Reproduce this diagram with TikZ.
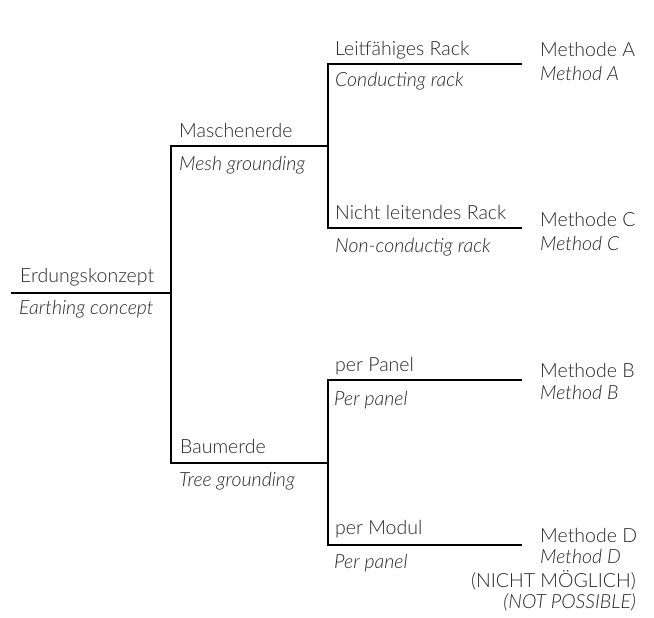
\documentclass[tikz,border=0pt]{standalone}
\usepackage{fontspec}
\setmainfont{Lato}[UprightFont={* Light},ItalicFont={* Light Italic},BoldFont={* Bold}]
\definecolor{txtgray}{HTML}{262626}
\begin{document}
\begin{tikzpicture}[x=1pt,y=-1pt,
  lbl/.style={anchor=base west,inner sep=0pt,text=txtgray,font=\fontsize{19.5}{22}\selectfont},
  lbli/.style={lbl,font=\fontsize{19.5}{22}\selectfont\itshape},
  lblr/.style={lbl,anchor=base east},
  lblri/.style={lbli,anchor=base east},
  branch/.style={draw=black,line width=2pt}]
\useasboundingbox (0,0) rectangle (654,618);
% junction coordinates
\coordinate (r0) at (11,293);
\coordinate (r1) at (171,293);
\coordinate (m0) at (171,146);
\coordinate (m1) at (328,146);
\coordinate (t0) at (171,463);
\coordinate (t1) at (328,463);
\coordinate (a0) at (328,64);
\coordinate (a1) at (522,64);
\coordinate (c0) at (328,228);
\coordinate (c1) at (522,228);
\coordinate (b0) at (328,380);
\coordinate (b1) at (522,380);
\coordinate (d0) at (328,545);
\coordinate (d1) at (522,545);
% connectors
\draw[branch] (r0) -- (r1);
\draw[branch] (m1) -- (m0) -- (t0) -- (t1);
\draw[branch] (a1) -- (a0) -- (c0) -- (c1);
\draw[branch] (b1) -- (b0) -- (d0) -- (d1);
% labels
\node[lbl]  (rootde) at (20,282) {Erdungskonzept};
\node[lbli] (rooten) at (19,314.5) {Earthing concept};
\node[lbl]  (meshde) at (179,138) {Maschenerde};
\node[lbli] (meshen) at (179,171) {Mesh grounding};
\node[lbl]  (treede) at (180,453) {Baumerde};
\node[lbli] (treeen) at (179,486) {Tree grounding};
\node[lbl]  (cde) at (335,56) {Leitfähiges Rack};
\node[lbli] (cen) at (335,87) {Conducting rack};
\node[lbl]  (nde) at (335,219) {Nicht leitendes Rack};
\node[lbli] (nen) at (335,252.5) {Non-conductig rack};
\node[lbl]  (pde) at (335,371) {per Panel};
\node[lbli] (pen) at (334,405) {Per panel};
\node[lbl]  (ude) at (335,534) {per Modul};
\node[lbli] (uen) at (334,568) {Per panel};
\node[lbl]  (made) at (540,57) {Methode A};
\node[lbli] (maen) at (540,81) {Method A};
\node[lbl]  (mcde) at (540,226) {Methode C};
\node[lbli] (mcen) at (540,250) {Method C};
\node[lbl]  (mbde) at (540,377) {Methode B};
\node[lbli] (mben) at (540,399) {Method B};
\node[lbl]  (mdde) at (540,542) {Methode D};
\node[lbli] (mden) at (540,563) {Method D};
\node[lblr]  (npde) at (636,587) {(NICHT MÖGLICH)};
\node[lblri] (npen) at (636,608) {(NOT POSSIBLE)};
\end{tikzpicture}
\end{document}
